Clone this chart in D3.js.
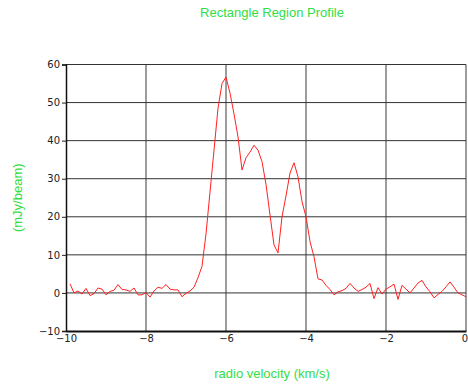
<!DOCTYPE html>
<html>
<head>
<meta charset="utf-8">
<script src="https://cdn.jsdelivr.net/npm/d3@7"></script>
<style>
  html, body { margin: 0; padding: 0; background: #fff; }
  svg { display: block; }
</style>
</head>
<body>
<svg id="chart" width="468" height="387"></svg>
<script>
// Spectral profile: channel velocities (km/s) and flux (mJy/beam)
const velocities = [
  -9.9, -9.8, -9.7, -9.6, -9.5, -9.4, -9.3, -9.2, -9.1, -9.0,
  -8.9, -8.8, -8.7, -8.6, -8.5, -8.4, -8.3, -8.2, -8.1, -8.0,
  -7.9, -7.8, -7.7, -7.6, -7.5, -7.4, -7.3, -7.2, -7.1, -7.0,
  -6.9, -6.8, -6.7, -6.6, -6.5, -6.4, -6.3, -6.2, -6.1, -6.0,
  -5.9, -5.8, -5.7, -5.6, -5.5, -5.4, -5.3, -5.2, -5.1, -5.0,
  -4.9, -4.8, -4.7, -4.6, -4.5, -4.4, -4.3, -4.2, -4.1, -4.0,
  -3.9, -3.8, -3.7, -3.6, -3.5, -3.4, -3.3, -3.2, -3.1, -3.0,
  -2.9, -2.8, -2.7, -2.6, -2.5, -2.4, -2.3, -2.2, -2.1, -2.0,
  -1.9, -1.8, -1.7, -1.6, -1.5, -1.4, -1.3, -1.2, -1.1, -1.0,
  -0.9, -0.8, -0.7, -0.6, -0.5, -0.4, -0.3, -0.2, -0.1, 0.0
];
const flux = [
  2.4, 0.0, 0.5, -0.3, 1.2, -0.7, -0.2, 1.3, 1.0, -0.5,
  0.4, 0.7, 2.2, 0.9, 0.8, 0.4, 1.3, -0.5, -0.5, 0.1,
  -1.1, 0.5, 1.5, 1.2, 2.2, 1.0, 0.8, 0.8, -1.0, -0.1,
  0.5, 1.5, 4.0, 7.0, 15.5, 26.5, 37.5, 48.5, 55.0, 56.7,
  52.5, 47.0, 41.0, 32.3, 35.5, 37.0, 38.8, 37.5, 34.5, 28.5,
  20.5, 12.6, 10.5, 20.0, 25.5, 31.5, 34.2, 30.5, 24.0, 20.0,
  13.5, 9.5, 3.7, 3.4, 2.0, 0.9, -0.5, 0.3, 0.6, 1.2,
  2.5, 1.3, 0.4, 0.9, 1.5, 2.5, -1.5, 1.4, -0.3, 1.0,
  1.6, 2.3, -1.7, 2.0, 1.0, 0.0, 1.3, 2.6, 3.3, 1.6,
  0.3, -1.3, -0.4, 0.4, 1.6, 2.9, 1.5, 0.0, -0.5, -1.0
];
const xTicks = [-10, -8, -6, -4, -2, 0];
const yTicks = [-10, 0, 10, 20, 30, 40, 50, 60];

const titleText = "Rectangle Region Profile";
const xLabel = "radio velocity (km/s)";
const yLabel = "(mJy/beam)";

const green = "#33dd44";
const svg = d3.select("#chart");

const x = d3.scaleLinear().domain([-10, 0]).range([66, 466]);
const y = d3.scaleLinear().domain([-10, 60]).range([331, 64.5]);

// grid
const grid = svg.append("g");
grid.selectAll("line.h").data(yTicks.filter(d => d !== -10)).join("line")
  .attr("x1", x(-10)).attr("x2", x(0))
  .attr("y1", d => y(d)).attr("y2", d => y(d))
  .attr("stroke", "#333").attr("stroke-width", 1);
grid.selectAll("line.v").data(xTicks.filter(d => d !== -10)).join("line")
  .attr("x1", d => x(d)).attr("x2", d => x(d))
  .attr("y1", y(60)).attr("y2", y(-10))
  .attr("stroke", "#3a3a3a").attr("stroke-width", 1);

// axes
const tickFont = "DejaVu Sans, sans-serif";
const yAxis = svg.append("g")
  .attr("transform", `translate(${x(-10)},0)`)
  .call(d3.axisLeft(y).tickValues(yTicks).tickSize(4).tickPadding(2));
yAxis.select(".domain").attr("stroke", "#111").attr("stroke-width", 1.5);
yAxis.selectAll(".tick line").attr("stroke", "#222");
yAxis.selectAll("text").attr("font-family", tickFont).attr("font-size", 10)
  .attr("fill", "#222");

const xAxis = svg.append("g")
  .attr("transform", `translate(0,${y(-10)})`)
  .call(d3.axisBottom(x).tickValues(xTicks).tickSize(0).tickPadding(4));
xAxis.select(".domain").attr("stroke", "#111").attr("stroke-width", 2);
xAxis.selectAll("text").attr("font-family", tickFont).attr("font-size", 10)
  .attr("fill", "#222");
// keep the last label inside the right edge of the canvas
xAxis.selectAll(".tick").filter(d => d === 0).select("text").attr("dx", "-1.5");

// profile line
const line = d3.line()
  .x((d, i) => x(velocities[i]))
  .y(d => y(d));
svg.append("path")
  .datum(flux)
  .attr("d", line)
  .attr("fill", "none")
  .attr("stroke", "#ff2020")
  .attr("stroke-width", 1);

// labels
const labelFont = "Liberation Sans, Arial, sans-serif";
svg.append("text")
  .attr("x", 272).attr("y", 17)
  .attr("text-anchor", "middle")
  .attr("font-family", labelFont).attr("font-size", 13)
  .attr("fill", green)
  .text(titleText);
svg.append("text")
  .attr("x", 272).attr("y", 378)
  .attr("text-anchor", "middle")
  .attr("font-family", labelFont).attr("font-size", 13)
  .attr("fill", green)
  .text(xLabel);
svg.append("text")
  .attr("transform", `translate(22,${(y(60) + y(-10)) / 2}) rotate(-90)`)
  .attr("text-anchor", "middle")
  .attr("font-family", labelFont).attr("font-size", 13)
  .attr("fill", green)
  .text(yLabel);
</script>
</body>
</html>
